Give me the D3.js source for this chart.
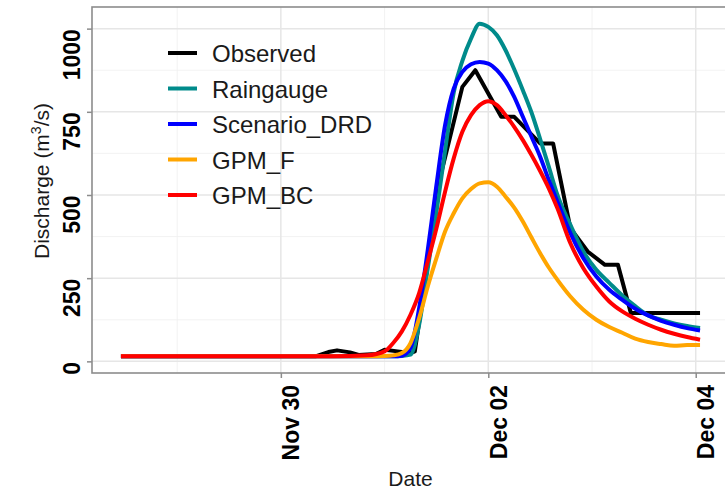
<!DOCTYPE html>
<html>
<head>
<meta charset="utf-8">
<script src="https://cdn.jsdelivr.net/npm/d3@7"></script>
<style>
  html, body { margin: 0; padding: 0; background: #fff; }
  svg { display: block; font-family: "Liberation Sans", Arial, sans-serif; }
</style>
</head>
<body>
<svg id="chart" width="725" height="494"></svg>
<script>
// Hydrograph: observed discharge vs. simulated discharge from four rainfall inputs
const seriesNames = ["Observed", "Raingauge", "Scenario_DRD", "GPM_F", "GPM_BC"];
const seriesColors = ["#000000", "#008b8b", "#0000ff", "#ffa500", "#ff0000"];

// Observed gauge record (times, m3/s)
const observedTimes = [
  "11-28 11:00", "11-30 08:00", "11-30 11:00", "11-30 13:00", "11-30 16:00", "11-30 18:00",
  "11-30 22:00", "12-01 00:00", "12-01 03:00", "12-01 06:00", "12-01 07:00", "12-01 13:00",
  "12-01 18:00", "12-01 21:00", "12-02 03:00", "12-02 06:00", "12-02 12:00", "12-02 15:00",
  "12-02 19:00", "12-02 23:00", "12-03 03:00", "12-03 06:00", "12-03 09:00", "12-04 01:00"
];
const observedQ = [
  15, 15, 28, 33, 27, 19,
  22, 35, 30, 25, 30, 560,
  825, 875, 735, 735, 655, 655,
  400, 330, 290, 290, 145, 145
];

// Simulated runs share one output time step list
const modelTimes = [
  "11-28 11:00", "11-29 00:00", "11-29 12:00", "11-30 00:00", "11-30 12:00", "11-30 20:00",
  "12-01 00:00", "12-01 02:00", "12-01 04:00", "12-01 06:00", "12-01 08:00", "12-01 10:00",
  "12-01 12:00", "12-01 14:00", "12-01 16:00", "12-01 18:00", "12-01 20:00", "12-01 22:00",
  "12-02 00:00", "12-02 02:00", "12-02 04:00", "12-02 06:00", "12-02 08:00", "12-02 10:00",
  "12-02 12:00", "12-02 14:00", "12-02 16:00", "12-02 19:00", "12-02 22:00", "12-03 01:00",
  "12-03 04:00", "12-03 07:00", "12-03 10:00", "12-03 13:00", "12-03 16:00", "12-03 19:00",
  "12-03 22:00", "12-04 01:00"
];
const raingaugeQ = [
  15, 15, 15, 15, 15, 15, 15, 15, 16, 20, 110, 280,
  448, 633, 808, 903, 970, 1015, 1005, 980, 935, 878,
  815, 748, 668, 585, 500, 410, 330, 275, 236, 198,
  166, 138, 125, 114, 106, 100
];
const scenarioDrdQ = [
  15, 15, 15, 15, 15, 15, 15, 15, 17, 40, 160, 335,
  530, 710, 820, 870, 893, 900, 895, 875, 842, 795,
  735, 675, 615, 545, 480, 385, 310, 255, 215, 185,
  158, 138, 122, 110, 100, 93
];
const gpmFQ = [
  15, 15, 15, 15, 15, 15, 16, 18, 25, 55, 130, 225,
  310, 390, 445, 490, 518, 535, 538, 525, 495, 462,
  420, 372, 325, 282, 245, 195, 155, 125, 103, 86,
  68, 58, 52, 47, 49, 49
];
const gpmBcQ = [
  15, 15, 15, 15, 15, 18, 30, 55, 90, 140, 205, 300,
  400, 510, 610, 690, 740, 770, 782, 770, 740, 705,
  665, 620, 572, 520, 460, 355, 280, 225, 180, 150,
  128, 110, 95, 83, 73, 65
];

const yTickValues = [0, 250, 500, 750, 1000];
const yMinorValues = [125, 375, 625, 875];
const xTickLabels = ["11-30 00:00", "12-02 00:00", "12-04 00:00"];
const xMinorLabels = ["11-29 00:00", "12-01 00:00", "12-03 00:00", "12-05 00:00"];

const parseTime = s => d3.timeParse("%Y-%m-%d %H:%M")("2018-" + s);

const series = [
  { name: seriesNames[0], color: seriesColors[0], curve: d3.curveLinear,
    points: observedTimes.map((t, i) => ({ t: parseTime(t), q: observedQ[i] })) },
  { name: seriesNames[1], color: seriesColors[1], curve: d3.curveMonotoneX,
    points: modelTimes.map((t, i) => ({ t: parseTime(t), q: raingaugeQ[i] })) },
  { name: seriesNames[2], color: seriesColors[2], curve: d3.curveMonotoneX,
    points: modelTimes.map((t, i) => ({ t: parseTime(t), q: scenarioDrdQ[i] })) },
  { name: seriesNames[3], color: seriesColors[3], curve: d3.curveMonotoneX,
    points: modelTimes.map((t, i) => ({ t: parseTime(t), q: gpmFQ[i] })) },
  { name: seriesNames[4], color: seriesColors[4], curve: d3.curveMonotoneX,
    points: modelTimes.map((t, i) => ({ t: parseTime(t), q: gpmBcQ[i] })) }
];

const svg = d3.select("#chart");
const margin = { left: 92, top: 7 };
const panelW = 637, panelH = 366;

// 5% padding on both axes, ggplot style
const allPts = series.flatMap(s => s.points);
const tExt = d3.extent(allPts, d => d.t);
const tPad = (tExt[1] - tExt[0]) * 0.05;
const qExt = d3.extent(allPts, d => d.q);
const qPad = (qExt[1] - qExt[0]) * 0.05;

const x = d3.scaleTime()
  .domain([new Date(+tExt[0] - tPad), new Date(+tExt[1] + tPad)])
  .range([margin.left, margin.left + panelW]);
const y = d3.scaleLinear()
  .domain([qExt[0] - qPad, qExt[1] + qPad])
  .range([margin.top + panelH, margin.top]);

const gGrid = svg.append("g");
// minor grid
gGrid.selectAll("line.ymin").data(yMinorValues).join("line")
  .attr("x1", margin.left).attr("x2", margin.left + panelW)
  .attr("y1", d => y(d)).attr("y2", d => y(d))
  .attr("stroke", "#f0f0f0").attr("stroke-width", 0.9);
gGrid.selectAll("line.xmin").data(xMinorLabels.map(parseTime)).join("line")
  .attr("y1", margin.top).attr("y2", margin.top + panelH)
  .attr("x1", d => x(d)).attr("x2", d => x(d))
  .attr("stroke", "#f0f0f0").attr("stroke-width", 0.9);
// major grid
gGrid.selectAll("line.ymaj").data(yTickValues).join("line")
  .attr("x1", margin.left).attr("x2", margin.left + panelW)
  .attr("y1", d => y(d)).attr("y2", d => y(d))
  .attr("stroke", "#e6e6e6").attr("stroke-width", 1.5);
gGrid.selectAll("line.xmaj").data(xTickLabels.map(parseTime)).join("line")
  .attr("y1", margin.top).attr("y2", margin.top + panelH)
  .attr("x1", d => x(d)).attr("x2", d => x(d))
  .attr("stroke", "#e6e6e6").attr("stroke-width", 1.5);

// data lines
const gLines = svg.append("g");
series.forEach(s => {
  const line = d3.line().x(d => x(d.t)).y(d => y(d.q)).curve(s.curve);
  gLines.append("path")
    .datum(s.points)
    .attr("d", line)
    .attr("fill", "none")
    .attr("stroke", s.color)
    .attr("stroke-width", 4)
    .attr("stroke-linejoin", "round");
});

// panel border
svg.append("rect")
  .attr("x", margin.left).attr("y", margin.top)
  .attr("width", panelW).attr("height", panelH)
  .attr("fill", "none").attr("stroke", "#8c8c8c").attr("stroke-width", 1.6);

// y axis
const yAxis = d3.axisLeft(y).tickValues(yTickValues).tickFormat(d3.format("d"))
  .tickSize(5).tickPadding(6);
const gy = svg.append("g").attr("transform", `translate(${margin.left},0)`).call(yAxis);
gy.select(".domain").remove();
gy.selectAll(".tick line").attr("stroke", "#8c8c8c").attr("stroke-width", 1.5);
gy.selectAll(".tick text")
  .attr("x", null).attr("dy", null)
  .attr("transform", "translate(-12,0) rotate(-90)")
  .attr("text-anchor", "end")
  .attr("font-family", "Liberation Sans, Arial, sans-serif")
  .attr("font-size", 23).attr("font-weight", "bold").attr("fill", "#000");

// x axis
const xAxis = d3.axisBottom(x).tickValues(xTickLabels.map(parseTime))
  .tickFormat(d3.timeFormat("%b %d")).tickSize(5);
const gx = svg.append("g").attr("transform", `translate(0,${margin.top + panelH})`).call(xAxis);
gx.select(".domain").remove();
gx.selectAll(".tick line").attr("stroke", "#8c8c8c").attr("stroke-width", 1.5);
gx.selectAll(".tick text")
  .attr("y", null).attr("dy", null)
  .attr("transform", "translate(18,12) rotate(-90)")
  .attr("text-anchor", "end")
  .attr("font-family", "Liberation Sans, Arial, sans-serif")
  .attr("font-size", 23).attr("font-weight", "bold").attr("fill", "#000");

// axis titles
const yTitle = svg.append("text")
  .attr("transform", `translate(49,${margin.top + panelH / 2 - 9}) rotate(-90)`)
  .attr("text-anchor", "middle")
  .attr("font-size", 21).attr("fill", "#1a1a1a");
yTitle.append("tspan").text("Discharge (m");
yTitle.append("tspan").attr("dy", -8).attr("font-size", 14).text("3");
yTitle.append("tspan").attr("dy", 8).text("/s)");

svg.append("text")
  .attr("x", margin.left + panelW / 2).attr("y", 486)
  .attr("text-anchor", "middle")
  .attr("font-size", 21).attr("fill", "#1a1a1a")
  .text("Date");

// legend
const legend = svg.append("g");
series.forEach((s, i) => {
  const ly = 53 + i * 35.5;
  legend.append("line")
    .attr("x1", 168).attr("x2", 197).attr("y1", ly).attr("y2", ly)
    .attr("stroke", s.color).attr("stroke-width", 4);
  legend.append("text")
    .attr("x", 212).attr("y", ly + 9)
    .attr("font-size", 24).attr("fill", "#1a1a1a")
    .text(s.name);
});
</script>
</body>
</html>
